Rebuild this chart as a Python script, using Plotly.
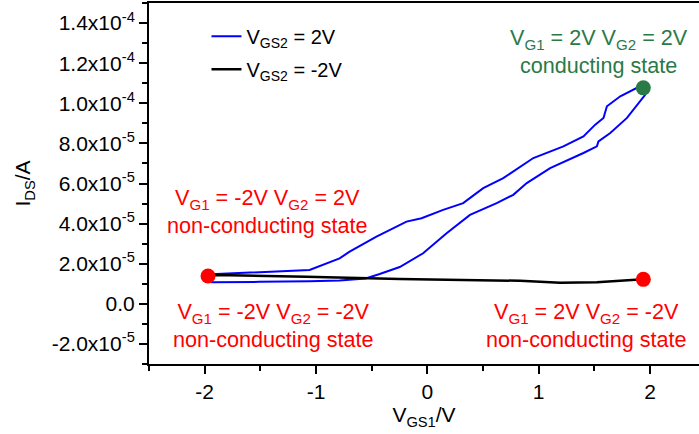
import plotly.graph_objects as go

# Blue loop (V_GS2 = 2V): forward branch then return branch
blue_v = [-1.949, -1.508, -1.058, -0.788, -0.698, -0.457, -0.187, -0.052, 0.142, 0.322,
          0.502, 0.682, 0.952, 1.222, 1.402, 1.508, 1.582, 1.613, 1.733, 1.883, 1.942,
          1.958, 1.793, 1.643, 1.537, 1.523, 1.402, 1.103, 0.893, 0.772, 0.623,
          0.383, 0.173, -0.038, -0.248, -0.428, -0.554, -0.788, -1.058, -1.508, -1.942]
blue_i = [1.47e-5, 1.585e-5, 1.685e-5, 2.27e-5, 2.6e-5, 3.35e-5, 4.1e-5, 4.27e-5, 4.685e-5, 5.02e-5,
          5.77e-5, 6.27e-5, 7.27e-5, 7.85e-5, 8.35e-5, 8.935e-5, 9.27e-5, 9.85e-5, 1.035e-4, 1.077e-4, 1.077e-4,
          1.0435e-4, 9.27e-5, 8.52e-5, 8.1e-5, 7.85e-5, 7.52e-5, 6.77e-5, 6.02e-5, 5.435e-5, 5.02e-5,
          4.435e-5, 3.52e-5, 2.52e-5, 1.835e-5, 1.485e-5, 1.26e-5, 1.16e-5, 1.12e-5, 1.095e-5, 1.07e-5]

# Black curve (V_GS2 = -2V)
black_v = [-1.97, -1.897, -1.087, -0.428, -0.248, 0.833, 1.193, 1.523, 1.852, 1.94]
black_i = [1.4e-5, 1.435e-5, 1.35e-5, 1.27e-5, 1.235e-5, 1.15e-5, 1.05e-5, 1.07e-5, 1.185e-5, 1.22e-5]

# State markers
red_v = [-1.97, 1.94]
red_i = [1.385e-5, 1.22e-5]
green_v = [1.94]
green_i = [1.077e-4]

y_tickvals = [-2e-5, 0, 2e-5, 4e-5, 6e-5, 8e-5, 1e-4, 1.2e-4, 1.4e-4]
y_ticktext = ["-2.0x10<sup>-5</sup>", "0.0", "2.0x10<sup>-5</sup>", "4.0x10<sup>-5</sup>",
              "6.0x10<sup>-5</sup>", "8.0x10<sup>-5</sup>", "1.0x10<sup>-4</sup>",
              "1.2x10<sup>-4</sup>", "1.4x10<sup>-4</sup>"]
x_tickvals = [-2, -1, 0, 1, 2]
x_ticktext = ["-2", "-1", "0", "1", "2"]

# State labels: (x, y, text, colour)
labels = [
    (1.54, 1.2585e-4, "V<sub>G1</sub> = 2V V<sub>G2</sub> = 2V<br>conducting state", "green"),
    (-1.436, 4.585e-5, "V<sub>G1</sub> = -2V V<sub>G2</sub> = 2V<br>non-conducting state", "red"),
    (-1.39, -1.09e-5, "V<sub>G1</sub> = -2V V<sub>G2</sub> = -2V<br>non-conducting state", "red"),
    (1.427, -1.09e-5, "V<sub>G1</sub> = 2V V<sub>G2</sub> = -2V<br>non-conducting state", "red"),
]

RED = "#ff0000"
GREEN = "#2a7a48"
COLORS = {"red": RED, "green": GREEN}
FONT = "Arial, Liberation Sans, sans-serif"

fig = go.Figure()
fig.add_trace(go.Scatter(x=blue_v, y=blue_i, mode="lines", name="V<sub>GS2</sub> = 2V",
                         legendgroup="a", line=dict(color="#0000ff", width=2)))
fig.add_trace(go.Scatter(x=black_v, y=black_i, mode="lines", name="V<sub>GS2</sub> = -2V",
                         legendgroup="b", line=dict(color="#000000", width=2.5)))
fig.add_trace(go.Scatter(x=red_v, y=red_i, mode="markers", showlegend=False,
                         marker=dict(color=RED, size=15)))
fig.add_trace(go.Scatter(x=green_v, y=green_i, mode="markers", showlegend=False,
                         marker=dict(color=GREEN, size=15)))

for lx, ly, txt, c in labels:
    fig.add_annotation(x=lx, y=ly, xref="x", yref="y", showarrow=False, text=txt,
                       yanchor="middle",
                       font=dict(family=FONT, size=21.6, color=COLORS[c]))

fig.update_layout(
    width=699, height=434,
    margin=dict(l=149, r=0, t=3, b=70, autoexpand=False),
    paper_bgcolor="white", plot_bgcolor="white",
    font=dict(family=FONT, size=21, color="black"),
    showlegend=True,
    legend=dict(x=0.1045, y=0.962, xanchor="left", yanchor="top",
                bgcolor="rgba(0,0,0,0)", font=dict(size=20), tracegroupgap=4),
    xaxis=dict(range=[-2.5, 2.44], tickvals=x_tickvals, ticktext=x_ticktext,
               automargin=False,
               showgrid=False, zeroline=False, showline=True, linecolor="black",
               linewidth=2, mirror=True, ticks="outside", ticklen=8, tickwidth=1.5,
               tickcolor="black",
               minor=dict(dtick=0.5, tick0=0, ticks="outside", ticklen=5, tickwidth=1.5,
                          tickcolor="black", showgrid=False),
               title=dict(text="V<sub>GS1</sub>/V", font=dict(size=21), standoff=2)),
    yaxis=dict(range=[-3e-5, 1.5e-4], tickvals=y_tickvals, ticktext=y_ticktext,
               automargin=False,
               showgrid=False, zeroline=False, showline=True, linecolor="black",
               linewidth=2, mirror=False, ticks="outside", ticklen=8, tickwidth=1.5,
               tickcolor="black",
               minor=dict(dtick=1e-5, tick0=0, ticks="outside", ticklen=5, tickwidth=1.5,
                          tickcolor="black", showgrid=False),
               title=dict(text="I<sub>DS</sub>/A", font=dict(size=21), standoff=15)),
)

fig.write_html("out.html", config={"displayModeBar": False},
               post_script="document.body.style.margin='0';")
